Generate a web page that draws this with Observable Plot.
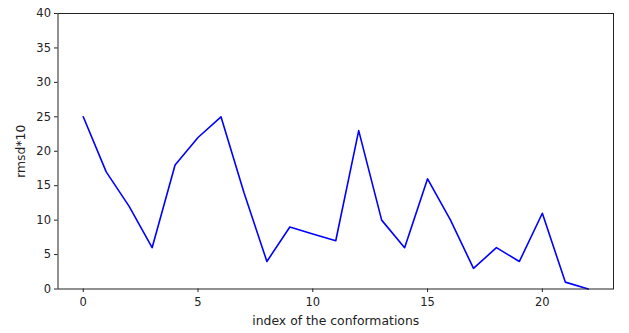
<!DOCTYPE html>
<html>
<head>
<meta charset="utf-8">
<script src="https://cdn.jsdelivr.net/npm/d3@7"></script>
<script src="https://cdn.jsdelivr.net/npm/@observablehq/plot@0.6"></script>
<style>
  html, body { margin: 0; padding: 0; background: #fff; }
  svg { display: block; }
</style>
</head>
<body>
<div id="chart"></div>
<script>
const indices = [0,1,2,3,4,5,6,7,8,9,10,11,12,13,14,15,16,17,18,19,20,21,22];
const rmsd10 = [25,17,12,6,18,22,25,14,4,9,8,7,23,10,6,16,10,3,6,4,11,1,0];
const xTicks = [0,5,10,15,20];
const yTicks = [0,5,10,15,20,25,30,35,40];

const data = indices.map((i, k) => ({i, v: rmsd10[k]}));
const font = "DejaVu Sans, sans-serif";

const chart = Plot.plot({
  width: 629,
  height: 333,
  marginLeft: 57.5,
  marginRight: 16,
  marginTop: 13,
  marginBottom: 44.5,
  style: {fontFamily: font, fontSize: "11.5px", color: "#222", background: "#fff"},
  x: {domain: [-1.1, 23.1]},
  y: {domain: [0, 40]},
  marks: [
    Plot.line(data, {x: "i", y: "v", stroke: "#0000ff", strokeWidth: 1.6}),
    Plot.frame({stroke: "#222", strokeWidth: 1}),
    Plot.axisX({ticks: xTicks, tickSize: 3.5, tickPadding: 5, tickFormat: d3.format("d"), fontSize: 11.5,
      label: null}),
    Plot.axisX({ticks: [], label: "index of the conformations", labelAnchor: "center", labelArrow: "none", labelOffset: 36, fontSize: 12.4}),
    Plot.axisY({ticks: yTicks, tickSize: 3.5, tickPadding: 3.5, tickFormat: d3.format("d"), fontSize: 11.5,
      label: null}),
    Plot.axisY({ticks: [], label: "rmsd*10", labelAnchor: "center", labelArrow: "none", labelOffset: 42, fontSize: 12.4})
  ]
});
document.getElementById("chart").appendChild(chart);
</script>
</body>
</html>
